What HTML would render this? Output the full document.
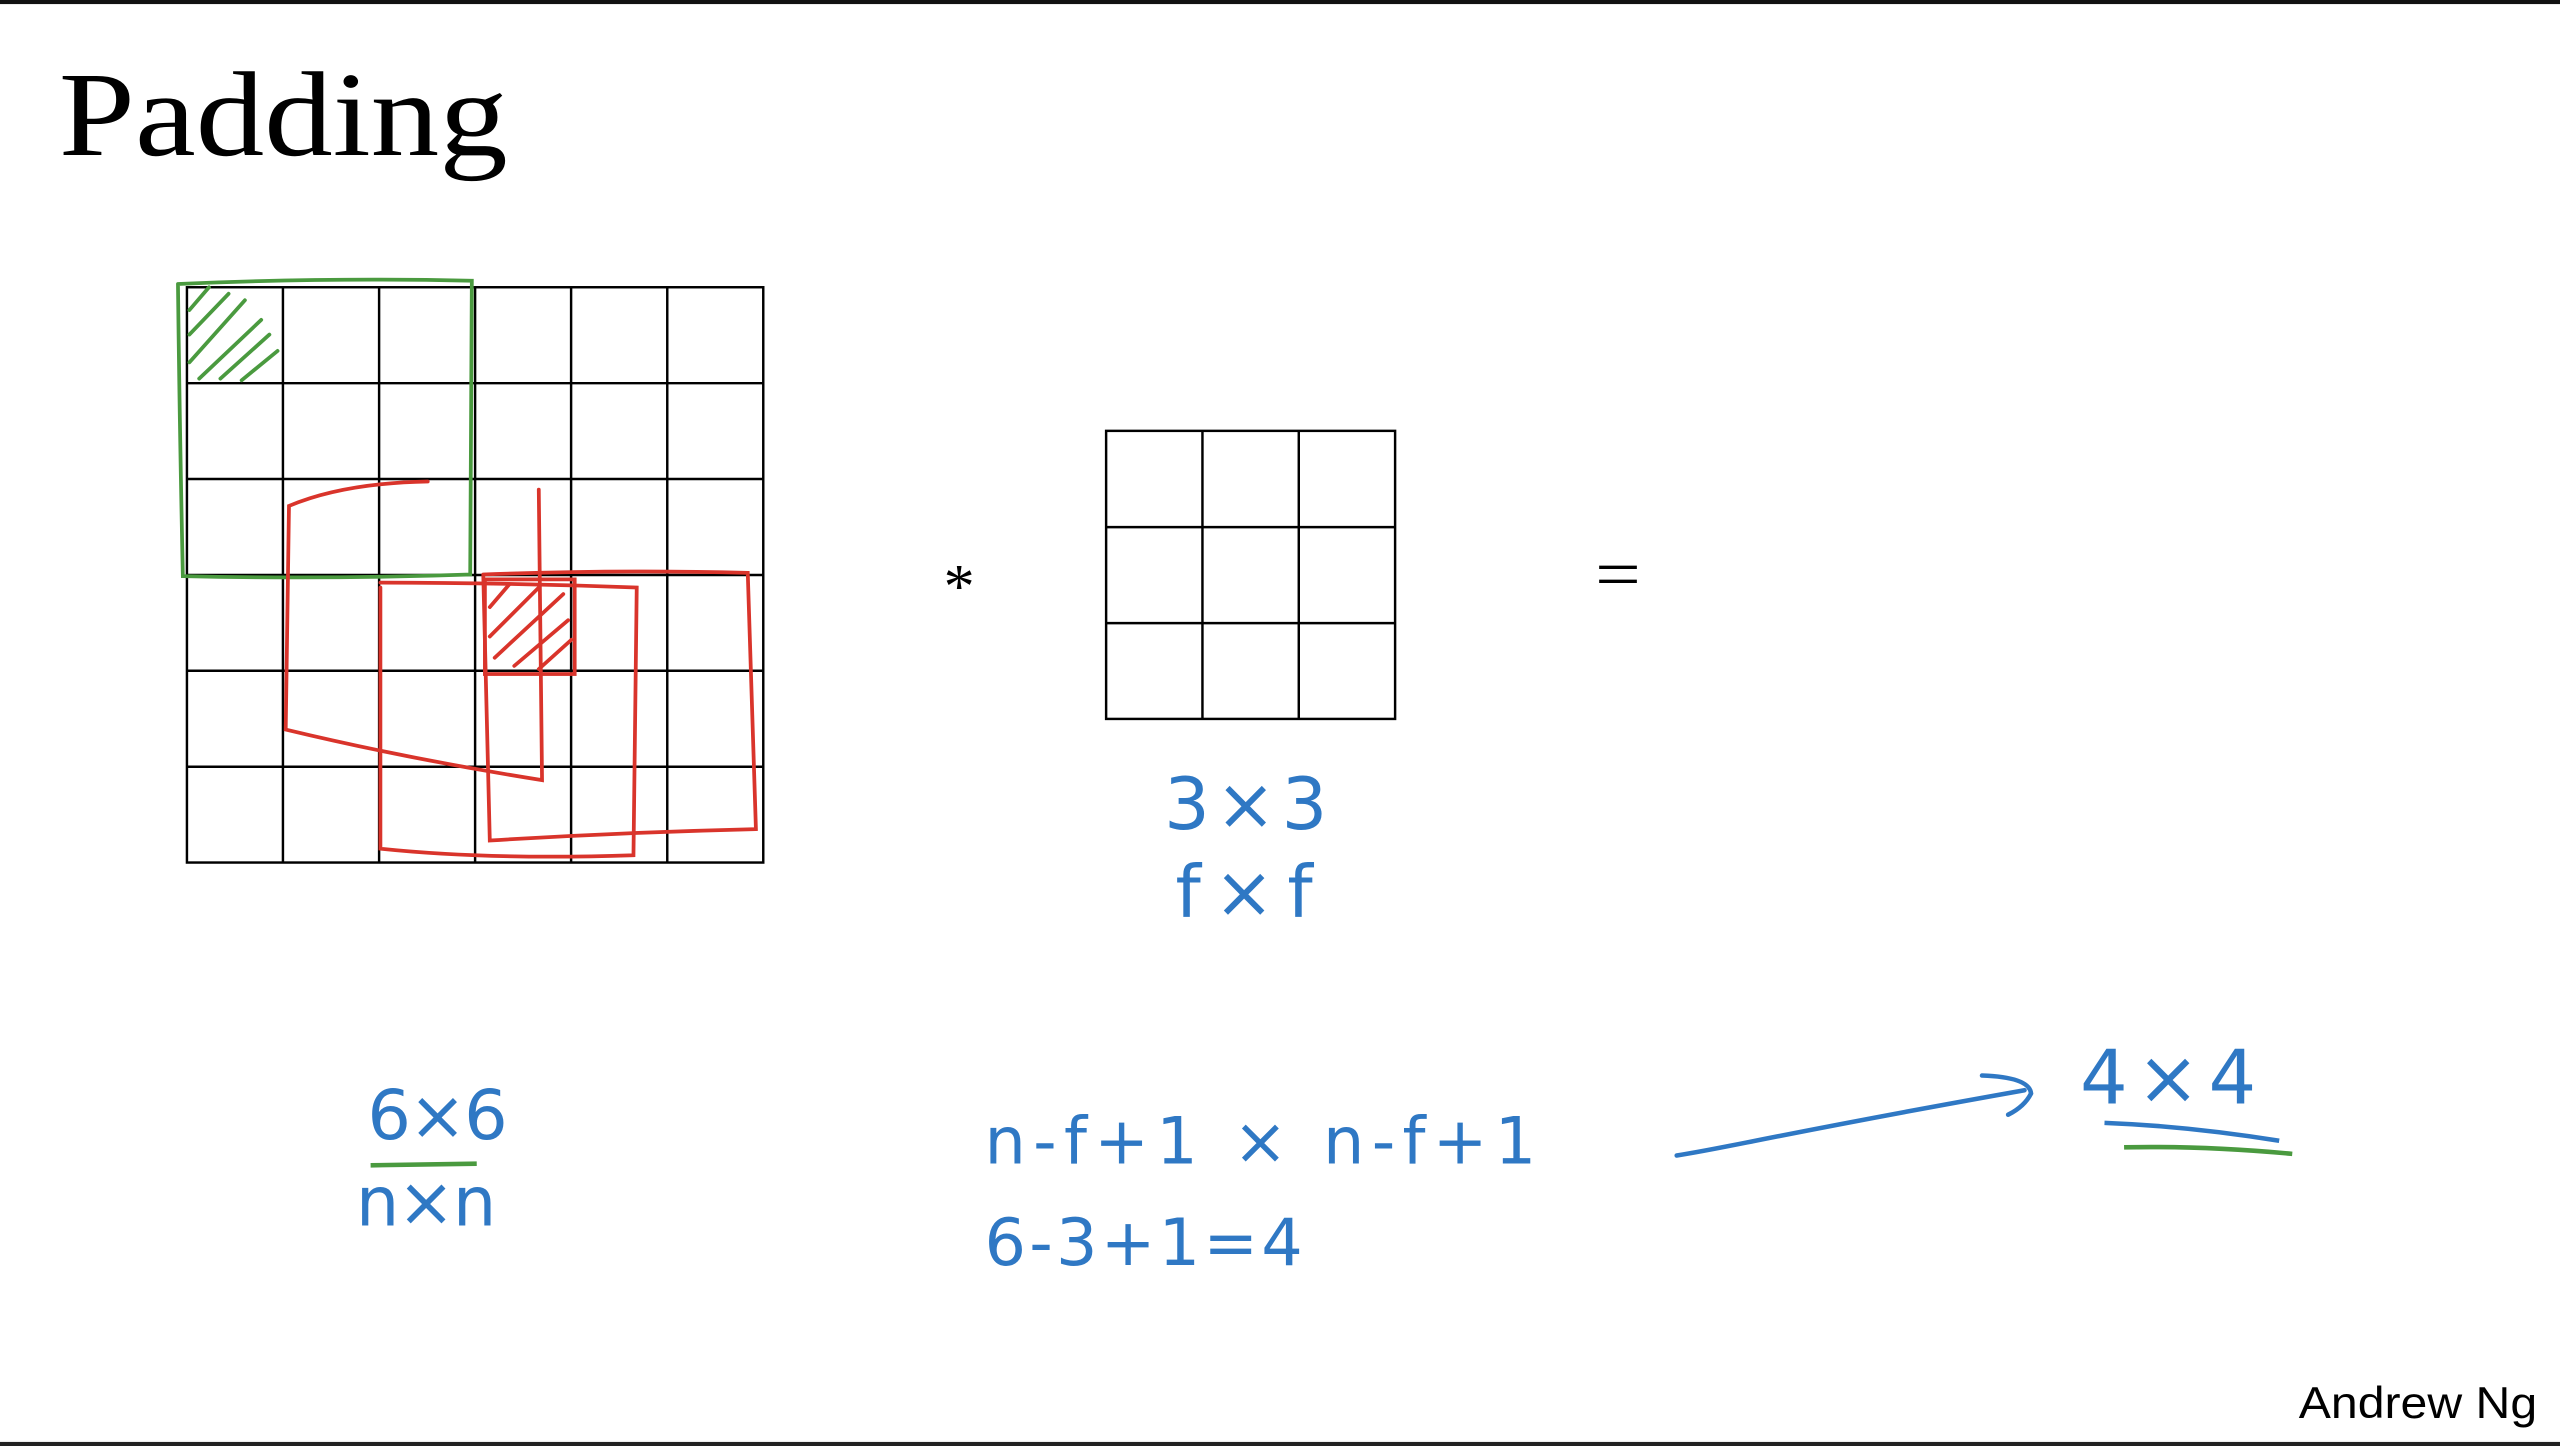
<!DOCTYPE html>
<html><head><meta charset="utf-8"><style>
html,body{margin:0;padding:0;background:#fff;}
svg{display:block;}
.hw{font-family:"DejaVu Sans","Liberation Sans",sans-serif;fill:#2f78c4;}
</style></head><body>
<svg width="2560" height="1446" viewBox="0 0 1568 886" preserveAspectRatio="none" xmlns="http://www.w3.org/2000/svg">
<rect x="0" y="0" width="1568" height="886" fill="#fff"/>
<rect x="0" y="0" width="1568" height="2.5" fill="#111"/>
<rect x="0" y="883.5" width="1568" height="2.5" fill="#222"/>
<text x="36" y="95" font-family="Liberation Serif, serif" font-size="74" fill="#000" textLength="275" lengthAdjust="spacingAndGlyphs">Padding</text>

<g stroke="#000" stroke-width="1.5" fill="none">
<rect x="114.5" y="176" width="353" height="352.5"/>
<path d="M173.3 176V528.5M232.2 176V528.5M291 176V528.5M349.8 176V528.5M408.7 176V528.5M114.5 234.8H467.5M114.5 293.5H467.5M114.5 352.3H467.5M114.5 411H467.5M114.5 469.8H467.5"/>
</g>

<g stroke="#4a9a3f" stroke-width="2.3" fill="none" stroke-linecap="round">
<path d="M109 174 Q200 170 289 172 L288 352 Q200 355 112 353 Q110 260 109 174"/>
<path d="M116 190 L128 176 M116 205 L140 180 M116 222 L150 184 M122 232 L160 196 M135 232 L165 205 M148 233 L170 215"/>
</g>

<g stroke="#d9342b" stroke-width="2.3" fill="none" stroke-linecap="round">
<path d="M262 295 Q210 296 177 310 L175 447 Q250 465 332 478 L330 300"/>
<path d="M233 360 L233 520 Q300 527 388 524 L390 360 Q310 357 233 357"/>
<path d="M296 352 Q380 349 458 351 L463 508 Q380 510 300 515 L296 352"/>
<rect x="297" y="355" width="55" height="58"/>
<path d="M300 372 L312 358 M300 390 L330 360 M303 403 L345 364 M315 408 L348 380 M330 410 L350 392"/>
</g>

<text x="578" y="372" font-family="Liberation Serif, serif" font-size="38" fill="#000">*</text>

<g stroke="#000" stroke-width="1.5" fill="none">
<rect x="677.5" y="264" width="177" height="176.5"/>
<path d="M736.5 264V440.5M795.5 264V440.5M677.5 323H854.5M677.5 381.8H854.5"/>
</g>

<text x="977" y="366" font-family="Liberation Serif, serif" font-size="42" fill="#000" textLength="28" lengthAdjust="spacingAndGlyphs">=</text>

<text class="hw" x="713" y="508" font-size="44" textLength="100">3×3</text>
<text class="hw" x="720" y="562" font-size="44" textLength="84">f×f</text>
<text class="hw" x="225" y="698" font-size="42" textLength="86">6×6</text>
<path d="M227 714 L292 713" stroke="#4a9a3f" stroke-width="2.8" fill="none"/>
<text class="hw" x="218" y="751" font-size="42" textLength="86">n×n</text>
<text class="hw" x="603" y="713" font-size="40" textLength="338">n-f+1  × n-f+1</text>
<text class="hw" x="603" y="775" font-size="40" textLength="195">6-3+1=4</text>
<g stroke="#2f78c4" stroke-width="2.8" fill="none" stroke-linecap="round">
<path d="M1027 708 Q1040 706 1070 700 Q1150 684 1240 668"/>
<path d="M1214 659 Q1243 660 1244 670 Q1240 678 1230 683"/>
</g>
<text class="hw" x="1274" y="676" font-size="46" textLength="108">4×4</text>
<path d="M1289 688 Q1340 690 1396 699" stroke="#2f78c4" stroke-width="2.8" fill="none"/>
<path d="M1301 703 Q1350 702 1404 707" stroke="#4a9a3f" stroke-width="2.8" fill="none"/>

<text x="1408" y="869" font-family="Liberation Sans, sans-serif" font-size="27" fill="#000" textLength="146" lengthAdjust="spacingAndGlyphs">Andrew Ng</text>
</svg>
</body></html>
